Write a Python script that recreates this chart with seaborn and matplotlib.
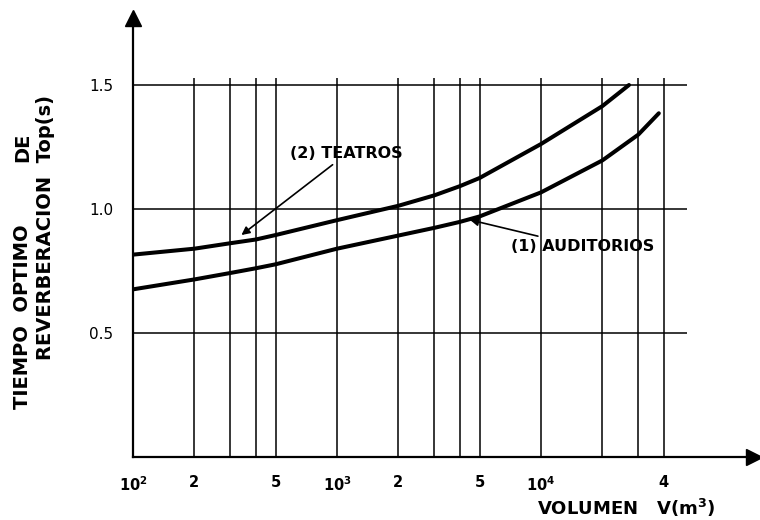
import matplotlib
matplotlib.use("Agg")
import matplotlib.pyplot as plt
import seaborn as sns
import pandas as pd

# ---- data ----
vol_teatros = [100, 200, 300, 400, 500, 1000, 2000, 3000, 4000, 5000, 10000, 20000, 27000]
top_teatros = [0.816, 0.840, 0.862, 0.877, 0.895, 0.955, 1.013, 1.055, 1.092, 1.125, 1.262, 1.415, 1.5]

vol_auditorios = [100, 200, 300, 400, 500, 1000, 2000, 3000, 4000, 5000, 10000, 20000, 30000, 37800]
top_auditorios = [0.676, 0.716, 0.742, 0.761, 0.777, 0.840, 0.893, 0.924, 0.948, 0.970, 1.067, 1.196, 1.300, 1.386]

grid_x = [200, 300, 400, 500, 1000, 2000, 3000, 4000, 5000, 10000, 20000, 30000, 40000]
x_ticks = [100] + grid_x
x_ticklabels = ["10$^2$", "2", "", "", "5", "10$^3$", "2", "", "", "5", "10$^4$", "", "", "4"]
grid_y = [0.5, 1.0, 1.5]
y_ticklabels = ["0.5", "1.0", "1.5"]

sns.set_style("white")
plt.rcParams["font.family"] = ["DejaVu Sans"]
plt.rcParams["mathtext.default"] = "bf"
for k in ["text.color", "axes.labelcolor", "xtick.color", "ytick.color"]:
    plt.rcParams[k] = "black"

df = pd.concat([
    pd.DataFrame({"V": vol_teatros, "T": top_teatros, "serie": "(2) TEATROS"}),
    pd.DataFrame({"V": vol_auditorios, "T": top_auditorios, "serie": "(1) AUDITORIOS"}),
])

W, H = 760, 520
fig = plt.figure(figsize=(W / 100, H / 100), dpi=100)
left_px, right_px, bottom_px, top_px = 133, 754, 457, 18
ax = fig.add_axes([left_px / W, 1 - bottom_px / H, (right_px - left_px) / W, (bottom_px - top_px) / H])

ax.set_xscale("log")
dec = 204.0
ax.set_xlim(100, 10 ** (2 + (right_px - left_px) / dec))
ax.set_ylim(0, (bottom_px - top_px) / 248.0)

# grid lines
ax.vlines(grid_x, 0, 1.528, color="black", lw=1.1, zorder=1)
ax.hlines(grid_y, 100, 10 ** 4.716, color="black", lw=1.1, zorder=1)

sns.lineplot(data=df, x="V", y="T", hue="serie", palette=["black", "black"],
             estimator=None, sort=True, lw=2.9, legend=False, ax=ax, zorder=3)

for s in ["top", "right"]:
    ax.spines[s].set_visible(False)
for s in ["left", "bottom"]:
    ax.spines[s].set_linewidth(1.6)
    ax.spines[s].set_color("black")

# arrow heads on axes
ax.plot([1], [0], marker=">", ms=11, color="black", transform=ax.transAxes, clip_on=False)
ax.plot([0], [1], marker="^", ms=11, color="black", transform=ax.transAxes, clip_on=False)

ax.set_xticks(x_ticks)
ax.set_xticklabels(x_ticklabels, fontsize=10.5, fontweight="bold")
ax.xaxis.set_minor_locator(matplotlib.ticker.NullLocator())
ax.set_yticks(grid_y)
ax.set_yticklabels(y_ticklabels, fontsize=11)
ax.tick_params(axis="x", direction="out", length=4, width=1.1, pad=9, colors="black")
ax.tick_params(axis="y", direction="out", length=6, width=1.1, pad=8, colors="black")
ax.set_xlabel("")
ax.set_ylabel("")

# annotations
ax.annotate("(2) TEATROS", xy=(340, 0.895), xytext=(590, 1.222),
            fontsize=11.5, fontweight="bold", ha="left", va="center",
            arrowprops=dict(arrowstyle="-|>", color="black", lw=1.2,
                            shrinkA=0, shrinkB=0, mutation_scale=12))
ax.annotate("(1) AUDITORIOS", xy=(4490, 0.956), xytext=(7150, 0.847),
            fontsize=11.5, fontweight="bold", ha="left", va="center",
            arrowprops=dict(arrowstyle="-|>", color="black", lw=1.2,
                            shrinkA=0, shrinkB=0, mutation_scale=12))

# axis titles
fig.text(537 / W, 1 - 508 / H, "VOLUMEN   V(m$^3$)", fontsize=13, fontweight="bold",
         ha="left", va="center")
fig.text(22.5 / W, 1 - 317 / H, "TIEMPO  OPTIMO", fontsize=14, fontweight="bold",
         rotation=90, ha="center", va="center")
fig.text(22.5 / W, 1 - 147 / H, "DE", fontsize=14, fontweight="bold",
         rotation=90, ha="center", va="center")
fig.text(45.5 / W, 1 - 228 / H, "REVERBERACION  Top(s)", fontsize=14, fontweight="bold",
         rotation=90, ha="center", va="center")

fig.savefig("out.png", dpi=100)
